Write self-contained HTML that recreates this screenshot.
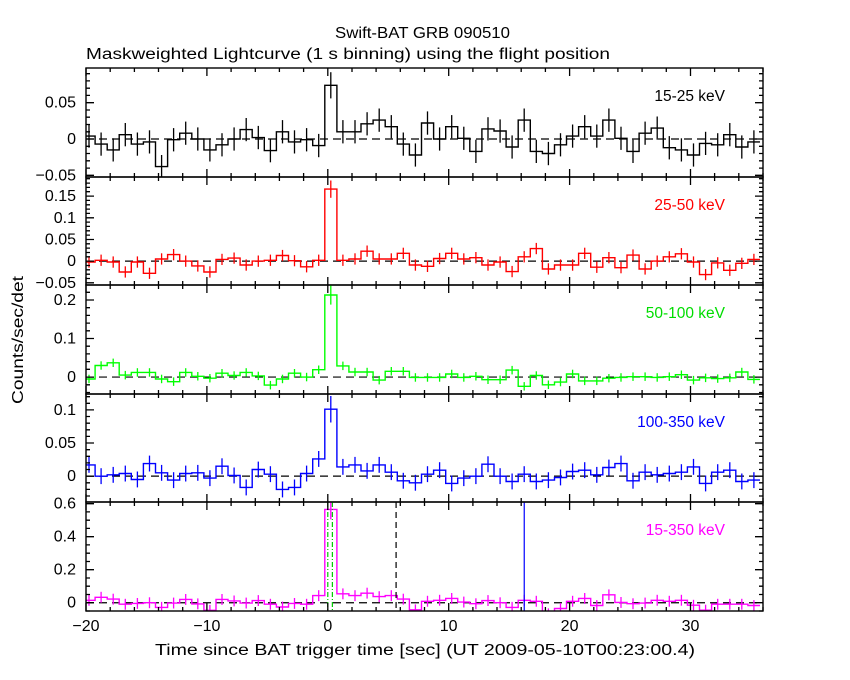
<!DOCTYPE html>
<html><head><meta charset="utf-8"><style>
html,body{margin:0;padding:0;background:#fff;}
svg{display:block;font-family:"Liberation Sans",sans-serif;}
</style></head><body>
<svg id="chart" width="850" height="680" viewBox="0 0 850 680" xmlns="http://www.w3.org/2000/svg">
<text x="335" y="38" font-size="15.5" textLength="175" lengthAdjust="spacingAndGlyphs">Swift-BAT GRB 090510</text>
<text x="86" y="59" font-size="15.5" textLength="524" lengthAdjust="spacingAndGlyphs">Maskweighted Lightcurve (1 s binning) using the flight position</text>
<text transform="translate(23,340) rotate(-90)" text-anchor="middle" font-size="15.5" textLength="128" lengthAdjust="spacingAndGlyphs">Counts/sec/det</text>
<text x="155" y="655" font-size="15.5" textLength="540" lengthAdjust="spacingAndGlyphs">Time since BAT trigger time [sec] (UT 2009-05-10T00:23:00.4)</text>
<g id="plots"></g>
</svg>
<script>
// time bins: left edges from -20.25 by 1 s (56 bins)
const binStart = -20.25;
const p1Values = [0.004,-0.007,-0.015,0.006,-0.007,-0.004,-0.038,-0.001,0.008,0,-0.015,-0.008,0,0.013,0.002,-0.016,0.01,-0.004,-0.001,-0.009,0.074,
 0.01,0.01,0.021,0.026,0.017,-0.007,-0.022,0.022,0,0.017,0.001,-0.017,0.014,0.011,-0.011,0.026,-0.017,-0.02,-0.008,0.004,0.017,0.004,0.026,0.001,-0.017,0.008,0.015,-0.012,-0.015,-0.022,-0.006,-0.008,0.006,-0.011,-0.004];
const p2Values = [-0.002,0.002,-0.002,-0.025,-0.002,-0.028,0.005,0.015,0,-0.011,-0.025,0.004,0.007,-0.009,0,0.002,0.013,0.001,-0.013,0.002,0.166,
 0.002,0.005,0.023,0.005,0.005,0.018,-0.009,-0.012,0.006,0.018,0.005,0.008,-0.009,-0.002,-0.024,0.01,0.029,-0.018,-0.009,-0.009,0.018,-0.014,0.008,-0.015,0.014,-0.018,0,0.01,0.017,-0.002,-0.031,-0.004,-0.021,-0.005,0.004];
const p3Values = [-0.005,0.03,0.037,0.005,0.012,0.012,-0.005,-0.012,0.012,0.002,-0.003,0.01,0.004,0.012,0.003,-0.021,-0.005,0.01,0,0.019,0.213,
 0.029,0.013,0.013,-0.008,0.015,0.015,-0.001,-0.001,-0.001,0.008,-0.001,0.002,-0.007,-0.007,0.018,-0.024,0.004,-0.02,-0.013,0.008,-0.01,-0.01,-0.003,-0.001,0.001,0.001,-0.001,0.001,0.006,-0.008,-0.002,-0.004,-0.002,0.013,-0.006];
const p4Values = [0.017,0,0.002,0.004,-0.005,0.019,0.005,-0.006,0.004,0.005,-0.003,0.015,0.001,-0.017,0.01,0.003,-0.02,-0.017,0.004,0.026,0.101,
 0.014,0.017,0.008,0.017,0.006,-0.007,-0.01,0.003,0.009,-0.011,-0.003,0,0.018,0,-0.008,0.003,-0.008,-0.006,-0.002,0.007,0.009,0.002,0.013,0.019,-0.007,0.006,0.002,0.004,0.006,0.014,-0.011,0.006,0.009,-0.008,-0.006];
const p5Values = [0.015,0.033,0.022,-0.009,-0.004,0,-0.028,-0.002,0.02,-0.007,-0.046,0.02,0.011,-0.002,0.013,-0.009,-0.026,-0.004,-0.009,0.043,0.565,
 0.054,0.043,0.058,0.037,0.043,0.022,-0.043,0.009,0.015,0.026,0.004,-0.006,0.013,0,-0.028,0.015,0.009,-0.067,-0.035,0.009,0.026,-0.017,0.048,0.002,-0.006,-0.002,0.015,0.009,0.015,-0.015,-0.045,-0.009,-0.009,-0.009,-0.017];
const errs = [0.016,0.013,0.011,0.012,0.033];
const spikeErrs = [0.018,0.02,0.025,0.02,0.06];
const bandLabels = ["15-25 keV","25-50 keV","50-100 keV","100-350 keV","15-350 keV"];
const colors = ["#000","#f00","#0f0","#00f","#f0f"];
const yRanges = [[-0.0523,0.0978],[-0.055,0.194],[-0.044,0.239],[-0.039,0.124],[-0.05,0.61]];
const yMajor = [[-0.05,0,0.05],[-0.05,0,0.05,0.1,0.15],[0,0.1,0.2],[0,0.05,0.1],[0,0.2,0.4,0.6]];
const yMajorLabels = [["\u22120.05","0","0.05"],["\u22120.05","0","0.05","0.1","0.15"],["0","0.1","0.2"],["0","0.05","0.1"],["0","0.2","0.4","0.6"]];
const yMinorStep = [0.01,0.01,0.02,0.01,0.05];
const xTicks = [-20,-10,0,10,20,30];
const xTickLabels = ["\u221220","\u221210","0","10","20","30"];
const vLines = [{t:0.0,c:"#0c0",d:"5,2,1,2"},{t:0.38,c:"#0c0",d:"5,2,1,2"},{t:5.65,c:"#000",d:"6,4"},{t:16.25,c:"#00f",d:""}];
const series=[p1Values,p2Values,p3Values,p4Values,p5Values];
const panelTops=[68,177,285,394,502,611];
const X0=86,X1=763,T0=-20,T1=36;
const ns="http://www.w3.org/2000/svg";
const g=document.getElementById('plots');
function xs(t){return X0+(t-T0)/(T1-T0)*(X1-X0);}
function mk(tag,attrs,parent){const e=document.createElementNS(ns,tag);for(const k in attrs)e.setAttribute(k,attrs[k]);(parent||g).appendChild(e);return e;}
for(let p=0;p<5;p++){
  const top=panelTops[p],bot=panelTops[p+1];
  const [lo,hi]=yRanges[p];
  const ys=v=>bot-(v-lo)/(hi-lo)*(bot-top);
  const pg=mk('g',{});
  
  
  const cp=mk('clipPath',{id:'cp'+p},pg);
  mk('rect',{x:X0,y:top,width:X1-X0,height:bot-top},cp);
  const zl=mk('line',{x1:X0,x2:X1,y1:ys(0),y2:ys(0),stroke:'#000','stroke-dasharray':'8,5','stroke-width':1.2},pg);
  
  
  const vals=series[p];
  let d='';
  const dg=mk('g',{'clip-path':'url(#cp'+p+')'},pg);
  for(let i=0;i<vals.length;i++){
    const a=xs(binStart+i),b=xs(binStart+i+1),y=ys(vals[i]);
    d+=(i===0?'M':'L')+a.toFixed(1)+','+y.toFixed(1)+'L'+b.toFixed(1)+','+y.toFixed(1);
    const e=(i===20?spikeErrs[p]:errs[p]);
    const c=xs(binStart+i+0.5);
    const eb=mk('path',{d:'M'+c.toFixed(1)+','+ys(vals[i]-e).toFixed(1)+'V'+ys(vals[i]+e).toFixed(1),stroke:colors[p],'stroke-width':1.3,fill:'none'},dg);
    
    
  }
  const sp=mk('path',{d:d,stroke:colors[p],'stroke-width':1.4,fill:'none'},dg);
  
  
  if(p===4){
    for(const v of vLines){
      const vl=mk('line',{x1:xs(v.t),x2:xs(v.t),y1:top,y2:bot,stroke:v.c,'stroke-width':1.2,'stroke-dasharray':v.d},pg);
      
      
    }
  }
  const fr=mk('rect',{x:X0,y:top,width:X1-X0,height:bot-top,fill:'none',stroke:'#000','stroke-width':1.4},pg);
  
  
  let tk='';
  for(let t=-20;t<=36;t+=2){const x=xs(t).toFixed(1);const L=(t%10===0)?8:4;tk+='M'+x+','+top+'v'+L+'M'+x+','+bot+'v-'+L;}
  for(let v=Math.ceil(lo/yMinorStep[p]-1e-6)*yMinorStep[p];v<=hi;v+=yMinorStep[p]){const y=ys(v).toFixed(1);tk+='M'+X0+','+y+'h4M'+X1+','+y+'h-4';}
  yMajor[p].forEach((v,j)=>{const y=ys(v).toFixed(1);tk+='M'+X0+','+y+'h8M'+X1+','+y+'h-8';
    const tl=mk('text',{x:X0-10,y:ys(v)+5,'text-anchor':'end','font-size':16},pg);tl.textContent=yMajorLabels[p][j];
    
    });
  mk('path',{d:tk,stroke:'#000','stroke-width':1.3,fill:'none'},pg);
  const lb=mk('text',{x:725,y:top+33,'text-anchor':'end','font-size':15.5,fill:colors[p]==='#0f0'?'#0d0':colors[p]},pg);
  lb.textContent=bandLabels[p];
  
  
}
xTicks.forEach((t,j)=>{const tl=mk('text',{x:xs(t),y:631,'text-anchor':'middle','font-size':16});tl.textContent=xTickLabels[j];
  
  });
</script>
</body></html>
